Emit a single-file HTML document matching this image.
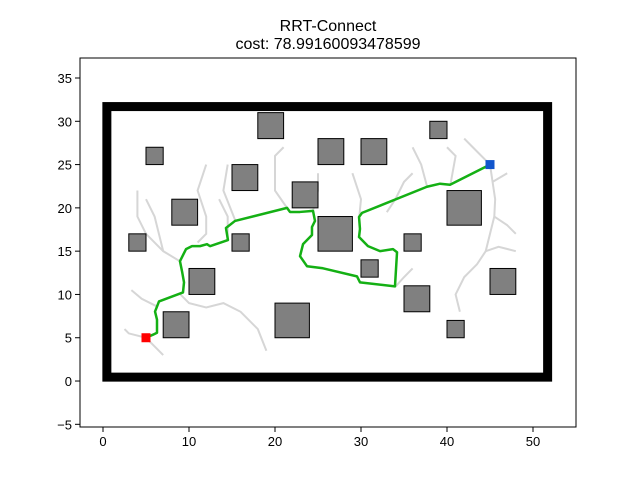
<!DOCTYPE html>
<html><head><meta charset="utf-8"><style>
body{margin:0;background:#fff;}
svg{display:block;font-family:"Liberation Sans","DejaVu Sans",sans-serif;}
</style></head><body>
<svg id="chart" width="640" height="480" viewBox="0 0 640 480">
<rect width="640" height="480" fill="#fff"/>
<text x="328" y="31" text-anchor="middle" font-size="16">RRT-Connect</text>
<text x="328" y="49" text-anchor="middle" font-size="16">cost: 78.99160093478599</text>
<g id="plot"></g>
</svg>
<script>
const obstacles=[[3,15,2,2],[5,25,2,2],[8,18,3,3],[10,10,3,3],[7,5,3,3],[15,22,3,3],[15,15,2,2],[18,28,3,3],[22,20,3,3],[20,5,4,4],[25,25,3,3],[25,15,4,4],[30,25,3,3],[30,12,2,2],[38,28,2,2],[35,15,2,2],[35,8,3,3],[40,18,4,4],[40,5,2,2],[45,10,3,3]];
const pathX=[5,5.81,6.28,6.28,6.05,6.28,6.51,9.30,9.42,9.19,8.95,9.65,10.35,11.28,12.09,12.44,14.53,14.30,15.35,21.40,21.74,22.91,24.42,24.65,24.30,24.30,23.26,22.91,23.72,25.58,29.53,29.88,33.95,34.19,33.72,32.21,30.81,29.77,29.88,29.77,30.12,37.67,39.19,40.35,45];
const pathY=[5,5.35,5.58,7.09,8.02,8.60,9.19,10.23,11.40,12.67,13.84,15.23,15.58,15.58,15.81,15.58,16.28,17.67,18.49,20.00,19.53,19.53,19.65,18.49,17.79,16.86,15.81,14.42,13.26,13.02,12.09,11.40,10.93,14.88,15.23,15.00,15.58,16.63,17.56,18.95,19.42,22.44,22.79,22.67,25];
const treeBranches=[
[[5,5],[3,5.5],[2.5,6]],[[5,5],[6,4],[7,3]],[[6.3,8.6],[4.5,9.5],[3.3,10.5]],[[9,10],[10,9],[12,8.5],[14,9],[16,8],[18,6],[19,3.5]],
[[9,13.8],[7,15],[5,17],[4,19],[4,22]],[[7,15],[6,19],[5,21]],[[11,16],[12,17],[12,19],[11,22],[12,25]],
[[14.5,16.3],[14.5,19],[13.5,21]],[[15.4,18.5],[14,22],[14.5,25]],[[21.4,20],[20,22],[20,26],[21,27]],
[[24.4,19.6],[25,22],[25,24]],[[29.8,19],[30,21],[29,24]],[[33,19.5],[34,21],[35,23],[36,24]],[[37.7,22.4],[37,25],[36,27]],
[[45,25],[45.3,23],[45.6,21],[45.5,19],[45,17],[44.5,15],[43.5,13.5],[42,12],[41,10],[41.5,8]],
[[45.5,19],[47,18],[48,17]],[[44.5,15],[46,15.5],[48,15]],[[45,25],[43,27],[42,28]],[[45.3,23],[47,24]],
[[40.4,22.7],[41,26],[40,27]],[[34,10.9],[35,12],[36,13]]
];
const xTicks=[0,10,20,30,40,50];
const yTicks=[-5,0,5,10,15,20,25,30,35];
const xMin=-2.674,xMax=55.0,yMin=-5.31,yMax=37.31;
const L=80,R=576,T=58,B=427;
const sx=v=>L+(v-xMin)/(xMax-xMin)*(R-L);
const sy=v=>B-(v-yMin)/(yMax-yMin)*(B-T);
const NS="http://www.w3.org/2000/svg";
const g=document.getElementById('plot');
function mk(tag,attrs){const e=document.createElementNS(NS,tag);for(const k in attrs)e.setAttribute(k,attrs[k]);g.appendChild(e);return e;}
let w=mk('rect',{x:sx(0.45),y:sy(31.7),width:sx(51.7)-sx(0.45),height:sy(0.45)-sy(31.7),fill:'none',stroke:'#000','stroke-width':9});


treeBranches.forEach(b=>{
 const p=mk('polyline',{points:b.map(q=>sx(q[0])+','+sy(q[1])).join(' '),fill:'none',stroke:'#d6d6d6','stroke-width':2});
 
 
});
obstacles.forEach(o=>{
 const r=mk('rect',{x:sx(o[0]),y:sy(o[1]+o[3]),width:sx(o[0]+o[2])-sx(o[0]),height:sy(o[1])-sy(o[1]+o[3]),fill:'#808080',stroke:'#000','stroke-width':1});
 
 
});
const pl=mk('polyline',{points:pathX.map((x,i)=>sx(x)+','+sy(pathY[i])).join(' '),fill:'none',stroke:'#14b014','stroke-width':2.5,'stroke-linejoin':'round'});


const s=mk('rect',{x:sx(pathX[0])-4.5,y:sy(pathY[0])-4.5,width:9,height:9,fill:'#ff0000'});


const n=pathX.length-1;
const gm=mk('rect',{x:sx(pathX[n])-4.5,y:sy(pathY[n])-4.5,width:9,height:9,fill:'#1155cc'});


const fr=mk('rect',{x:L,y:T,width:R-L,height:B-T,fill:'none',stroke:'#000','stroke-width':1});


xTicks.forEach(t=>{
 const l=mk('line',{x1:sx(t),x2:sx(t),y1:B,y2:B+5,stroke:'#000'});
 
 
 const tx=mk('text',{x:sx(t),y:B+19,'text-anchor':'middle','font-size':13});
 tx.textContent=t;
 
 
});
yTicks.forEach(t=>{
 const l=mk('line',{x1:L-5,x2:L,y1:sy(t),y2:sy(t),stroke:'#000'});
 
 
 const tx=mk('text',{x:L-8,y:sy(t)+5,'text-anchor':'end','font-size':13});
 tx.textContent=t<0?'\u2212'+(-t):t;
 
 
});
</script>
</body></html>
